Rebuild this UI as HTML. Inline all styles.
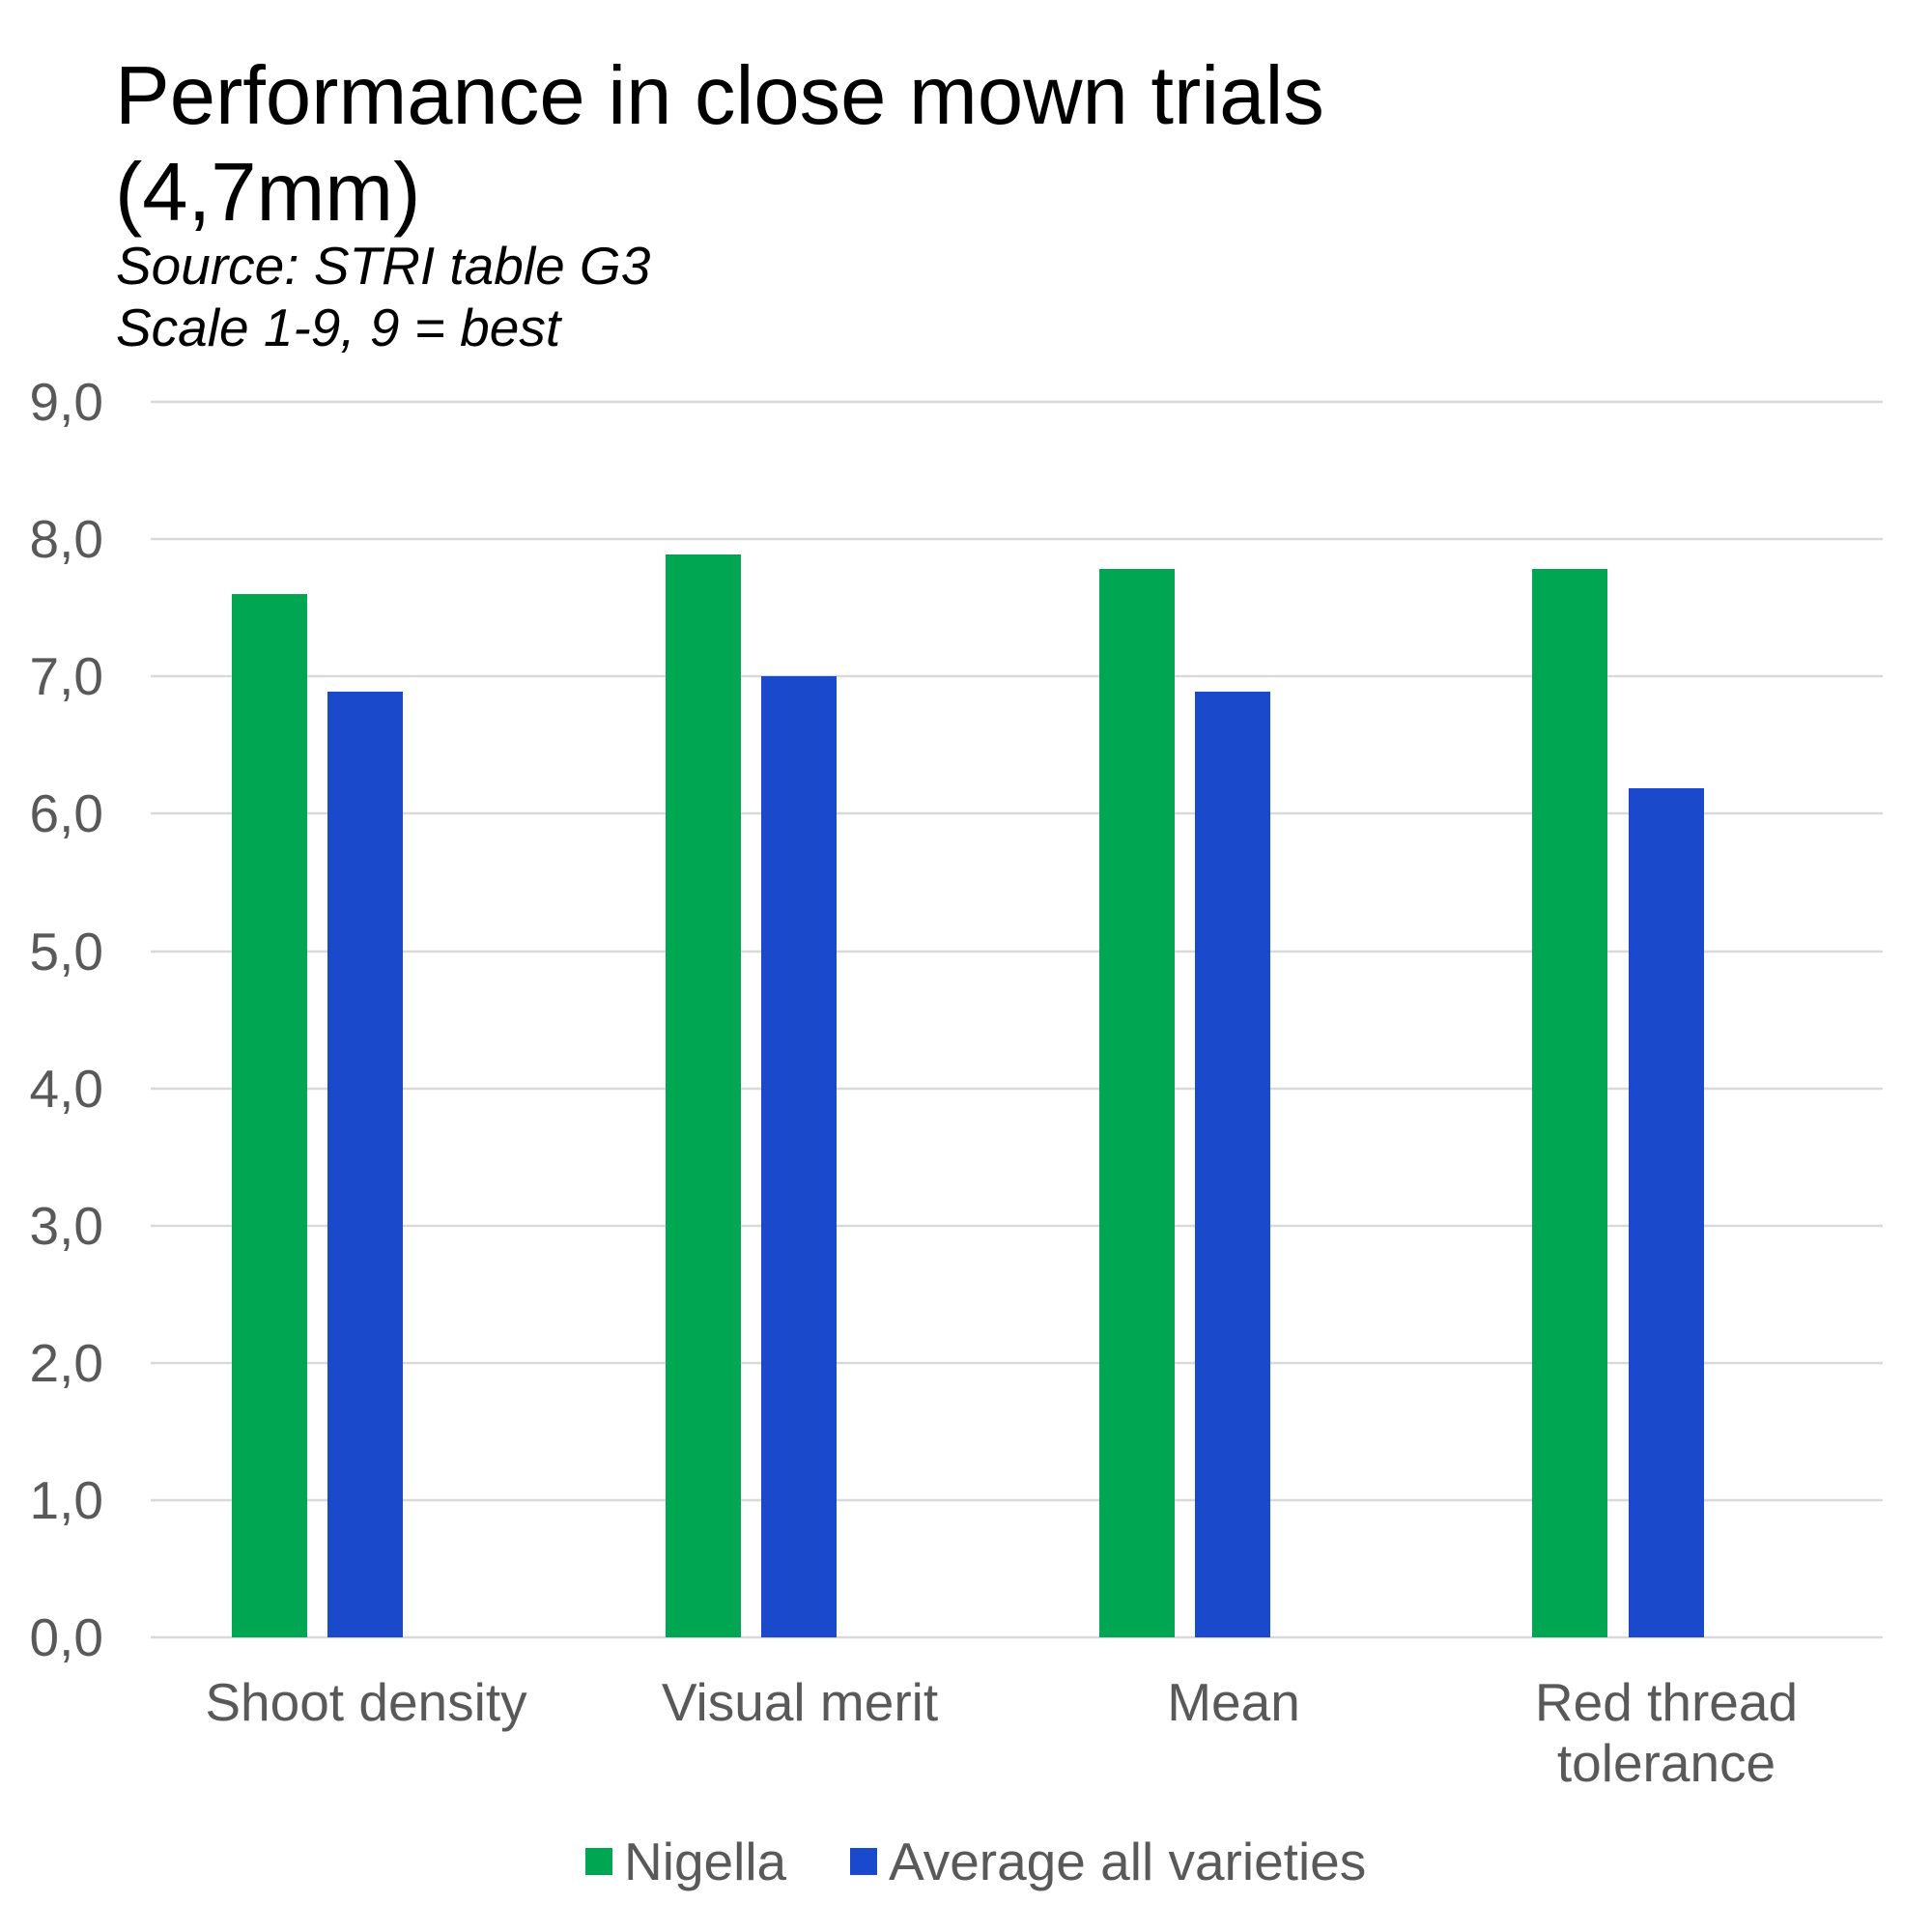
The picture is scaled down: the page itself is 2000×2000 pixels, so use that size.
<!DOCTYPE html>
<html><head><meta charset="utf-8"><style>
html,body{margin:0;padding:0;background:#fff;}
svg{display:block;}
text{font-family:"Liberation Sans",Arial,sans-serif;}
</style></head><body>
<svg width="2000" height="2000" viewBox="0 0 2000 2000" xmlns="http://www.w3.org/2000/svg">
<rect width="2000" height="2000" fill="#fff"/>
<text x="119" y="128" font-size="85" fill="#000">Performance in close mown trials</text>
<text x="119" y="228" font-size="85" fill="#000">(4,7mm)</text>
<text x="120" y="294" font-size="55" font-style="italic" fill="#000">Source: STRI table G3</text>
<text x="120" y="358" font-size="55" font-style="italic" fill="#000">Scale 1-9, 9 = best</text>
<g stroke="#d9d9d9" stroke-width="2.5">
<line x1="156" x2="1949" y1="416" y2="416"/>
<line x1="156" x2="1949" y1="558" y2="558"/>
<line x1="156" x2="1949" y1="700" y2="700"/>
<line x1="156" x2="1949" y1="842" y2="842"/>
<line x1="156" x2="1949" y1="985" y2="985"/>
<line x1="156" x2="1949" y1="1127" y2="1127"/>
<line x1="156" x2="1949" y1="1269" y2="1269"/>
<line x1="156" x2="1949" y1="1411" y2="1411"/>
<line x1="156" x2="1949" y1="1553" y2="1553"/>
<line x1="156" x2="1949" y1="1695" y2="1695"/>
</g>
<g font-size="55" fill="#595959" text-anchor="end">
<text x="107" y="435">9,0</text>
<text x="107" y="577">8,0</text>
<text x="107" y="719">7,0</text>
<text x="107" y="861">6,0</text>
<text x="107" y="1004">5,0</text>
<text x="107" y="1146">4,0</text>
<text x="107" y="1288">3,0</text>
<text x="107" y="1430">2,0</text>
<text x="107" y="1572">1,0</text>
<text x="107" y="1714">0,0</text>
</g>
<g fill="#00A651">
<rect x="240" y="615" width="78" height="1080"/>
<rect x="689" y="574" width="78" height="1121"/>
<rect x="1138" y="589" width="78" height="1106"/>
<rect x="1586" y="589" width="78" height="1106"/>
</g>
<g fill="#1A49CB">
<rect x="339" y="716" width="78" height="979"/>
<rect x="788" y="700" width="78" height="995"/>
<rect x="1237" y="716" width="78" height="979"/>
<rect x="1686" y="816" width="78" height="879"/>
</g>
<g font-size="55" fill="#595959" text-anchor="middle">
<text x="379" y="1781">Shoot density</text>
<text x="828" y="1781">Visual merit</text>
<text x="1277" y="1781">Mean</text>
<text x="1725" y="1781">Red thread</text>
<text x="1725" y="1844">tolerance</text>
</g>
<rect x="606" y="1913" width="28" height="28" fill="#00A651"/>
<text x="646" y="1946" font-size="55" fill="#595959">Nigella</text>
<rect x="880" y="1913" width="28" height="28" fill="#1A49CB"/>
<text x="920" y="1946" font-size="55" fill="#595959">Average all varieties</text>
</svg>
</body></html>
